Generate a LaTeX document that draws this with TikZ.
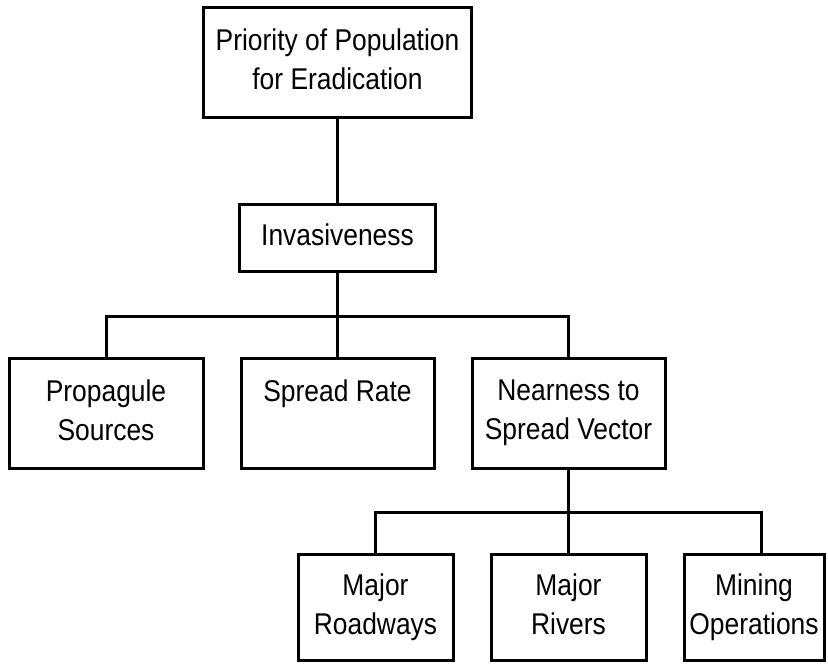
\documentclass[tikz,border=0pt]{standalone}
\usepackage{fontspec}
\setmainfont{Liberation Sans}[FakeStretch=0.88]
\newcommand{\boxdepth}{\rule[-7pt]{0pt}{7pt}}
\tikzset{
  box/.style={draw, line width=3pt, align=center, inner sep=0pt,
    font=\fontsize{30}{39}\selectfont, execute at end node=\boxdepth},
  link/.style={line width=3pt}
}
\begin{document}
\begin{tikzpicture}[x=1pt, y=-1pt, node distance=175.5pt]
            \useasboundingbox (0,0) rectangle (828,665);
            \node(prio) [box, minimum width=268pt, minimum height=110pt] at (337.5,62.5) {Priority of Population\\for Eradication};
            \node(inv) [box, below of=prio, minimum width=196pt, minimum height=67pt] {Invasiveness};
            \node(spread) [box, below of=inv, minimum width=193pt, minimum height=110pt] {Spread Rate\\};
            \node(prop) [box, left of=spread, node distance=231.5pt, minimum width=194pt, minimum height=110pt] {Propagule\\Sources};
            \node(near) [box, right of=spread, node distance=231pt, minimum width=193pt, minimum height=110pt] {Nearness to\\Spread Vector};
            \node(rivers) [box, below of=near, node distance=194pt, minimum width=155pt, minimum height=106pt] {Major\\Rivers};
            \node(road) [box, left of=rivers, node distance=193pt, minimum width=155pt, minimum height=106pt] {Major\\Roadways};
            \node(mining) [box, right of=rivers, node distance=185.5pt, minimum width=140pt, minimum height=106pt] {Mining\\Operations};
            \draw[link](prio) to (inv);
            \draw[link](inv) to (spread);
            \draw[link](inv.south) -- ++(0,43) -| (prop.north);
            \draw[link](inv.south) -- ++(0,43) -| (near.north);
            \draw[link](near) to (rivers);
            \draw[link](near.south) -- ++(0,42) -| (road.north);
            \draw[link](near.south) -- ++(0,42) -| ([xshift=7pt]mining.north);
            \end{tikzpicture}
\end{document}
